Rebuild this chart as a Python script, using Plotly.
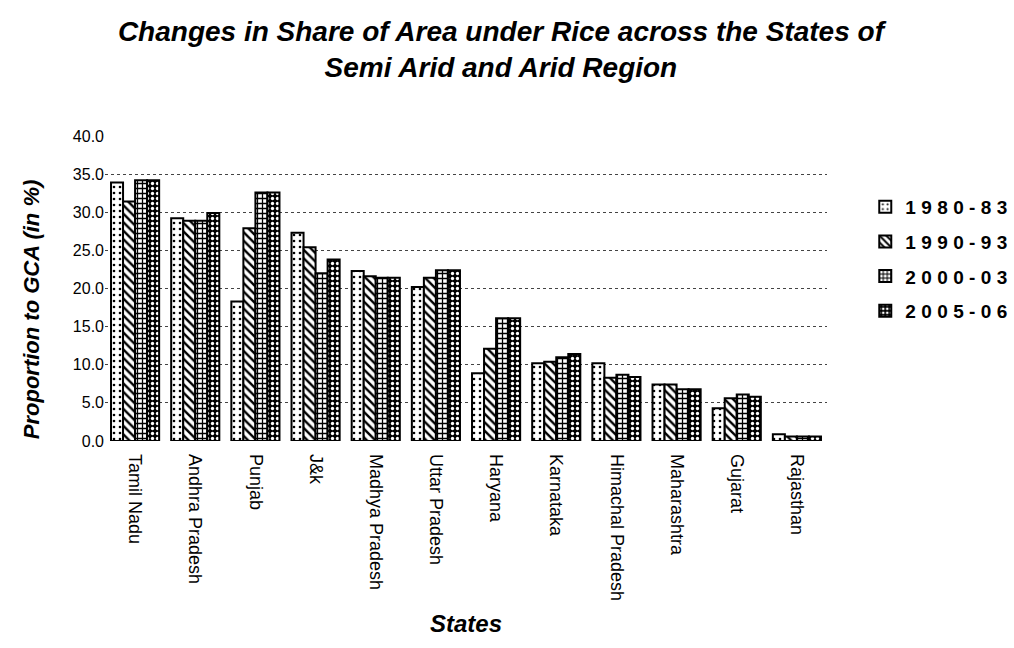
import plotly.graph_objects as go

states = ["Tamil Nadu", "Andhra Pradesh", "Punjab", "J&k", "Madhya Pradesh",
          "Uttar Pradesh", "Haryana", "Karnataka", "Himachal Pradesh",
          "Maharashtra", "Gujarat", "Rajasthan"]

share_1980_83 = [33.9, 29.2, 18.3, 27.3, 22.3, 20.2, 8.9, 10.2, 10.2, 7.4, 4.3, 0.9]
share_1990_93 = [31.4, 28.9, 27.9, 25.4, 21.6, 21.4, 12.1, 10.4, 8.3, 7.4, 5.6, 0.6]
share_2000_03 = [34.2, 28.9, 32.6, 22.0, 21.4, 22.4, 16.1, 11.0, 8.7, 6.8, 6.1, 0.6]
share_2005_06 = [34.2, 29.9, 32.6, 23.8, 21.4, 22.4, 16.1, 11.4, 8.4, 6.8, 5.8, 0.6]

periods = ["1980-83", "1990-93", "2000-03", "2005-06"]
series = [share_1980_83, share_1990_93, share_2000_03, share_2005_06]

y_ticks = [0, 5, 10, 15, 20, 25, 30, 35, 40]
y_tick_text = ["0.0", "5.0", "10.0", "15.0", "20.0", "25.0", "30.0", "35.0", "40.0"]

# black-and-white fill patterns for each period
patterns = [
    dict(shape=".", fgcolor="black", bgcolor="white", size=6, solidity=0.15, fillmode="replace"),
    dict(shape="\\", fgcolor="black", bgcolor="white", size=6, solidity=0.4, fillmode="replace"),
    dict(shape="+", fgcolor="black", bgcolor="white", size=5, solidity=0.45, fillmode="replace"),
    dict(shape=".", fgcolor="white", bgcolor="black", size=5, solidity=0.35, fillmode="replace"),
]

SP = "\u2009\u200a"  # letter spacing for the legend entries


def spaced(label):
    return SP.join(label)


fig = go.Figure()
for name, vals, pat in zip(periods, series, patterns):
    fig.add_trace(go.Bar(
        x=states, y=vals, name=spaced(name), legendgroup=name,
        marker=dict(color="white", pattern=pat,
                    line=dict(color="black", width=2)),
    ))

font_main = "Liberation Sans, Arial, sans-serif"

fig.update_layout(
    width=1014, height=648,
    paper_bgcolor="white", plot_bgcolor="white",
    margin=dict(l=105, r=187, t=136, b=207, autoexpand=False),
    barmode="group", bargap=0.2, bargroupgap=0.0,
    font=dict(family=font_main, color="black"),
    title=dict(
        text="<b><i>Changes in Share of Area under Rice across the States of<br>Semi Arid and Arid Region</i></b>",
        x=0.494, xanchor="center", y=0.937, yanchor="top",
        font=dict(size=28, family=font_main, color="black"),
    ),
    legend=dict(
        x=1.053, xanchor="left", y=0.83, yanchor="top",
        font=dict(size=19, family=font_main, color="black", weight="bold"),
        tracegroupgap=7, itemsizing="constant", itemwidth=30,
        bgcolor="rgba(0,0,0,0)",
    ),
    showlegend=True,
    annotations=[dict(
        text="<b><i>Proportion to GCA (in %)</i></b>",
        xref="paper", yref="paper", x=-0.102, y=0.43,
        xanchor="center", yanchor="middle", textangle=-90, showarrow=False,
        font=dict(size=22, family=font_main, color="black"),
    )],
)

fig.update_xaxes(
    tickangle=90,
    tickfont=dict(size=18, family=font_main, color="black"),
    ticklabelstandoff=12,
    showline=False, showgrid=False, ticks="",
    title=dict(text="<b><i>States</i></b>", font=dict(size=24, family=font_main, color="black"), standoff=15),
)

fig.update_yaxes(
    range=[0, 40],
    tickvals=y_ticks, ticktext=y_tick_text,
    tickfont=dict(size=16, family=font_main, color="black"),
    showgrid=True, gridcolor="#444444", gridwidth=1, griddash="dot",
    zeroline=False, showline=False, ticks="",
)

fig.write_html("out.html")
